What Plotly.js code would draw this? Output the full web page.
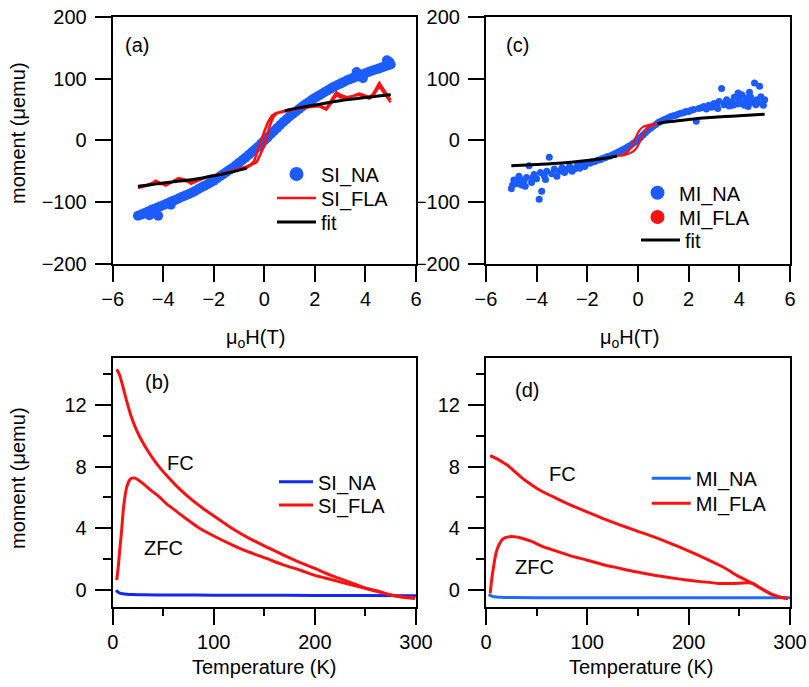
<!DOCTYPE html>
<html>
<head>
<meta charset="utf-8">
<script src="https://cdn.plot.ly/plotly-3.0.1.min.js"></script>
<style>
  html, body { margin: 0; padding: 0; background: #fff; }
  #chart { width: 809px; height: 687px; }
</style>
</head>
<body>
<div id="chart"></div>
<script>
// ---------- (a) SI samples: moment vs applied field ----------
const siNaField = [-5,-4.875,-4.75,-4.625,-4.5,-4.375,-4.25,-4.125,-4,-3.875,-3.75,-3.625,-3.5,-3.375,-3.25,-3.125,-3,-2.875,-2.75,-2.625,-2.5,-2.375,-2.25,-2.125,-2,-1.875,-1.75,-1.625,-1.5,-1.375,-1.25,-1.125,-1,-0.875,-0.75,-0.625,-0.5,-0.375,-0.25,-0.125,
  0,0.125,0.25,0.375,0.5,0.625,0.75,0.875,1,1.125,1.25,1.375,1.5,1.625,1.75,1.875,2,2.125,2.25,2.375,2.5,2.625,2.75,2.875,3,3.125,3.25,3.375,3.5,3.625,3.75,3.875,4,4.125,4.25,4.375,4.5,4.625,4.75,4.875,5,
  -4.55,-4.3,-4.2,-3.7,3.65,3.9,4.85,4.95];
const siNaMoment = [-122,-120,-118,-115.5,-113,-111,-109,-107,-105,-102.5,-100,-98,-96,-93.5,-91,-89,-87,-84.5,-82,-79,-76,-73.5,-71,-68,-65,-61.5,-58,-54.5,-51,-47.5,-44,-40,-36,-32,-28,-23.5,-19,-14.5,-10,-5,
  0,5,10,15,20,25,30,34.5,39,43,47,51,55,58.5,62,65.5,69,72,75,78,81,84,87,89.5,92,94.5,97,99,101,103,105,107,109,111,113,114.5,116,118,120,121.5,123,
  -121,-118,-122,-104,111,101,130,127];

const siFlaField = [5,4.75,4.55,4.3,4.15,3.9,3.75,3.5,3.25,3.0,2.85,2.6,2.45,2.2,1.9,1.6,1.3,1.0,0.7,0.45,0.3,0.15,0.0,-0.12,-0.25,-0.4,-0.55,-0.7,-1.0,-1.3,-1.7,-2.1,-2.5,-2.9,-3.15,-3.4,-3.65,-3.9,-4.1,-4.3,-4.55,-4.8,-5,
  -4.7,-4.4,-4.2,-3.9,-3.6,-3.4,-3.1,-2.9,-2.5,-2.1,-1.7,-1.3,-1.0,-0.7,-0.5,-0.3,-0.15,0.0,0.1,0.2,0.35,0.5,0.7,1.0,1.3,1.6,1.9,2.2,2.45,2.6,2.85,3.0,3.25,3.5,3.75,3.9,4.15,4.3,4.55,4.75,5];
const siFlaMoment = [65,80,93,75,70,74,76,72,70,74,78,62,52,56,55,54,52,50,47,44,40,30,15,0,-18,-33,-39,-42,-46,-50,-54,-57,-63,-70,-63,-61,-67,-73,-69,-65,-72,-75,-77,
  -73,-68,-70,-71,-66,-63,-66,-67,-62,-57,-54,-51,-47,-44,-39,-35,-22,-8,5,22,38,44,46,49,52,54,55,55,50,58,74,70,68,72,74,72,68,72,88,76,62];

const fitAField  = [-5,-4.5,-4,-3.5,-3,-2.5,-2,-1.5,-1,-0.7,null,0.8,1,1.5,2,2.5,3,3.5,4,4.5,5];
const fitAMoment = [-74,-71.5,-69,-66.5,-64,-61,-57,-53,-48,-45,null,48,50,54,57.5,61,64.5,67,69.5,72,74];

// ---------- (c) MI samples: moment vs applied field ----------
const miNaField = [-5,-4.9,-4.8,-4.7,-4.6,-4.5,-4.4,-4.3,-4.2,-4.1,-4,-3.9,-3.8,-3.7,-3.6,-3.5,-3.4,-3.3,-3.2,-3.1,-3,-2.9,-2.8,-2.7,-2.6,-2.5,-2.4,-2.3,-2.2,-2.1,-2,-1.9,-1.8,-1.7,-1.6,-1.5,-1.4,-1.3,-1.2,-1.1,-1,-0.9,-0.8,-0.7,-0.6,-0.5,-0.4,-0.3,-0.2,-0.1,0,0.1,0.2,0.3,0.4,0.5,0.6,0.7,0.8,0.9,1,1.1,1.2,1.3,1.4,1.5,1.6,1.7,1.8,1.9,2,2.1,2.2,2.3,2.4,2.5,2.6,2.7,2.8,2.9,3,3.1,3.2,3.3,3.4,3.5,3.6,3.7,3.8,3.9,4,4.1,4.2,4.3,4.4,4.5,4.6,4.7,4.8,4.9,5,
  -4.95,-4.85,-4.65,-4.45,-4.15,-3.85,-3.65,3.15,3.45,3.75,3.95,4.05,4.25,4.35,4.45,4.65,4.85,4.95];
const miNaMoment = [-78,-64,-70,-58,-72,-66,-60,-41,-68,-55,-62,-95,-82,-57,-50,-27,-54,-46,-58,-50,-44,-52,-47,-42,-50,-46,-41,-45,-38,-42,-36,-37,-35,-34,-32,-31,-29,-28,-26,-25,-23,-21,-19,-17,-15,-13,-10,-8,-5,-2,1,5,9,13,17,20,23,26,29,31,33,35,37,39,40,41,43,44,45,47,47,49,50,31,52,53,55,51,57,54,60,55,63,84,58,66,56,62,70,59,67,74,57,69,78,62,93,66,88,60,66,
  -72,-66,-63,-74,-60,-52,-63,52,62,57,77,60,64,55,70,58,71,57];

const miFlaField  = [0.77,0.55,0.35,0.2,0.05,-0.05,-0.15,-0.25,-0.35,-0.5,-0.65,-0.83,-0.6,-0.4,-0.2,-0.05,0.05,0.1,0.2,0.3,0.45,0.6,0.77];
const miFlaMoment = [27,26,24,22,16,8,0,-9,-16,-21,-24,-25,-24,-22,-18,-12,-4,0,9,16,22,25,27];

const fitCField  = [-5,-4,-3,-2,-1.5,-1,-0.83,null,0.77,1,1.5,2,3,4,5];
const fitCMoment = [-41,-39,-36.5,-32.5,-30,-26.5,-25,null,27,29,31.5,34,37.5,40,42.5];

// ---------- (b) SI samples: FC / ZFC moment vs temperature ----------
const siNaTemp   = [3.5,5,7,10,14,20,30,50,100,150,200,250,300];
const siNaTMom   = [0.0,-0.12,-0.2,-0.24,-0.27,-0.29,-0.31,-0.32,-0.33,-0.34,-0.35,-0.36,-0.37];
const siFcTemp   = [4,7,10,14,18,22,27,33,40,47,55,63,72,86,100,119,135,152,168,185,200,218,235,251,268,284,299];
const siFcMom    = [14.3,13.9,13.2,12.2,11.3,10.6,9.9,9.2,8.5,7.9,7.3,6.75,6.2,5.45,4.8,3.95,3.35,2.8,2.3,1.8,1.4,0.9,0.5,0.1,-0.2,-0.43,-0.55];
const siZfcTemp  = [4,5.5,7,9,10.5,12,14,16.5,19,22,26,31,37,45,53,61,70,86,100,119,135,152,168,185,200,218,235,251,262,274,287,299];
const siZfcMom   = [0.65,1.5,2.6,4.0,5.2,6.0,6.7,7.1,7.25,7.25,7.1,6.85,6.5,6.1,5.6,5.2,4.75,4.0,3.5,2.9,2.45,2.05,1.65,1.3,0.95,0.65,0.35,0.1,-0.05,-0.3,-0.45,-0.5];

// ---------- (d) MI samples: FC / ZFC moment vs temperature ----------
const miNaTemp   = [2.6,5,8,14,25,50,100,150,200,250,300];
const miNaTMom   = [-0.28,-0.38,-0.44,-0.47,-0.49,-0.5,-0.5,-0.5,-0.5,-0.5,-0.5];
const miFcTemp   = [4,8,11,16,21,27,34,42,50,58,66,82,99,115,132,148,165,182,198,214,230,239,247,255,263,271,280,285,290,295,298];
const miFcMom    = [8.7,8.6,8.5,8.3,8.1,7.75,7.35,6.95,6.6,6.3,6.05,5.55,5.08,4.65,4.22,3.85,3.46,3.03,2.59,2.12,1.62,1.3,0.97,0.7,0.43,0.12,-0.21,-0.35,-0.47,-0.52,-0.54];
const miZfcTemp  = [4.2,5.5,7.5,9,10.8,13,15.7,19,23.9,28,33.7,45,55,66.5,82,99,115,132,148,165,182,198,214,230,240,250,258,263,271,280,285,290,295,298];
const miZfcMom   = [-0.21,0.6,1.51,2.1,2.59,2.95,3.24,3.4,3.46,3.45,3.39,3.15,2.85,2.59,2.25,1.95,1.66,1.41,1.18,0.97,0.8,0.65,0.53,0.43,0.42,0.44,0.47,0.43,0.12,-0.21,-0.35,-0.47,-0.52,-0.54];

// ---------- styling ----------
const W = 809, H = 687;
const FONT = 'Liberation Sans, Arial, Helvetica, sans-serif';
const FS = 20;
const BLUE_DOT = 'rgb(28,92,255)';
const RED = 'rgb(250,18,18)';
const BLUE_B = 'rgb(20,40,240)';
const BLUE_D = 'rgb(30,108,255)';

const traces = [
  // (a)
  {x:siNaField, y:siNaMoment, type:'scatter', mode:'markers', name:'SI_NA', marker:{size:10, color:BLUE_DOT}, showlegend:false, xaxis:'x', yaxis:'y'},
  {x:[null], y:[null], type:'scatter', mode:'markers', name:'SI_NA', marker:{size:14, color:BLUE_DOT}, legend:'legend', xaxis:'x', yaxis:'y'},
  {x:siFlaField, y:siFlaMoment, type:'scatter', mode:'lines', name:'SI_FLA', line:{color:RED, width:2.6}, legend:'legend2', xaxis:'x', yaxis:'y'},
  {x:fitAField, y:fitAMoment, type:'scatter', mode:'lines', name:'fit', line:{color:'#000', width:3, shape:'spline'}, legend:'legend3', xaxis:'x', yaxis:'y'},
  // (c)
  {x:miNaField, y:miNaMoment, type:'scatter', mode:'markers', name:'MI_NA', marker:{size:7, color:BLUE_DOT}, showlegend:false, xaxis:'x2', yaxis:'y2'},
  {x:[null], y:[null], type:'scatter', mode:'markers', name:'MI_NA', marker:{size:14, color:BLUE_DOT}, legend:'legend4', xaxis:'x2', yaxis:'y2'},
  {x:[null], y:[null], type:'scatter', mode:'markers', name:'MI_FLA', marker:{size:14, color:RED}, legend:'legend5', xaxis:'x2', yaxis:'y2'},
  {x:miFlaField, y:miFlaMoment, type:'scatter', mode:'lines', name:'MI_FLA', line:{color:RED, width:2.2, shape:'spline', smoothing:0.8}, showlegend:false, xaxis:'x2', yaxis:'y2'},
  {x:fitCField, y:fitCMoment, type:'scatter', mode:'lines', name:'fit', line:{color:'#000', width:3, shape:'spline'}, legend:'legend6', xaxis:'x2', yaxis:'y2'},
  // (b)
  {x:siNaTemp, y:siNaTMom, type:'scatter', mode:'lines', name:'SI_NA', line:{color:BLUE_B, width:3, shape:'spline'}, legend:'legend7', xaxis:'x3', yaxis:'y3'},
  {x:siFcTemp, y:siFcMom, type:'scatter', mode:'lines', name:'SI_FLA', line:{color:RED, width:3, shape:'spline', smoothing:0.6}, legend:'legend8', xaxis:'x3', yaxis:'y3'},
  {x:siZfcTemp, y:siZfcMom, type:'scatter', mode:'lines', name:'SI_FLA', line:{color:RED, width:3, shape:'spline', smoothing:0.6}, showlegend:false, xaxis:'x3', yaxis:'y3'},
  // (d)
  {x:miNaTemp, y:miNaTMom, type:'scatter', mode:'lines', name:'MI_NA', line:{color:BLUE_D, width:3, shape:'spline'}, legend:'legend9', xaxis:'x4', yaxis:'y4'},
  {x:miFcTemp, y:miFcMom, type:'scatter', mode:'lines', name:'MI_FLA', line:{color:RED, width:3, shape:'spline', smoothing:0.6}, legend:'legend10', xaxis:'x4', yaxis:'y4'},
  {x:miZfcTemp, y:miZfcMom, type:'scatter', mode:'lines', name:'MI_FLA', line:{color:RED, width:3, shape:'spline', smoothing:0.6}, showlegend:false, xaxis:'x4', yaxis:'y4'}
];

function axis(extra) {
  return Object.assign({
    showline: true, linewidth: 2, linecolor: '#000', mirror: true,
    ticks: 'outside', ticklen: 16, tickwidth: 2, tickcolor: '#000',
    showgrid: false, zeroline: false, fixedrange: true,
    tickfont: {family: FONT, size: FS, color: '#000'}
  }, extra);
}

const xTopL = [0.1393, 0.5142], xTopR = [0.6007, 0.9765];
const yTop = [0.6157, 0.9753], yBot = [0.1164, 0.4782];

const fieldAxis = {range: [-6, 6], tick0: 0, dtick: 2};
const momentAxis = {range: [-200, 200], tick0: 0, dtick: 100, ticklabelstandoff: 4};
const tempAxis = {range: [0, 300], tick0: 0, dtick: 100,
  minor: {dtick: 50, ticklen: 7, tickwidth: 2, tickcolor: '#000', ticks: 'outside'}};
const tMomentAxis = {range: [-1.1, 15], tick0: 0, dtick: 4, ticklabelstandoff: 4,
  minor: {dtick: 2, ticklen: 8, tickwidth: 2, tickcolor: '#000', ticks: 'outside'}};

// one legend box per entry, placed by its left edge (px) and entry centre (px)
function legendAt(leftPx, centerPx, itemwidth, size) {
  const fs = size || FS;
  const offset = 5 + (fs * 1.3 + 3) / 2;
  return {bgcolor: 'rgba(0,0,0,0)', borderwidth: 0, xanchor: 'left', yanchor: 'top',
    x: leftPx / W, y: 1 - (centerPx - offset) / H, itemwidth: itemwidth,
    font: {family: FONT, size: fs, color: '#000'}, itemclick: false, itemdoubleclick: false};
}

function label(text, px, py, extra) {
  return Object.assign({text: text, x: px / W, y: 1 - py / H, xref: 'paper', yref: 'paper',
    showarrow: false, xanchor: 'center', yanchor: 'middle',
    font: {family: FONT, size: FS, color: '#000'}}, extra || {});
}

const layout = {
  width: W, height: H,
  margin: {l: 0, r: 0, t: 0, b: 0},
  paper_bgcolor: '#fff', plot_bgcolor: '#fff',
  font: {family: FONT, size: FS, color: '#000'},
  showlegend: true,
  xaxis:  axis(Object.assign({domain: xTopL, anchor: 'y'}, fieldAxis)),
  yaxis:  axis(Object.assign({domain: yTop, anchor: 'x'}, momentAxis)),
  xaxis2: axis(Object.assign({domain: xTopR, anchor: 'y2'}, fieldAxis)),
  yaxis2: axis(Object.assign({domain: yTop, anchor: 'x2'}, momentAxis)),
  xaxis3: axis(Object.assign({domain: xTopL, anchor: 'y3'}, tempAxis)),
  yaxis3: axis(Object.assign({domain: yBot, anchor: 'x3'}, tMomentAxis)),
  xaxis4: axis(Object.assign({domain: xTopR, anchor: 'y4'}, tempAxis)),
  yaxis4: axis(Object.assign({domain: yBot, anchor: 'x4'}, tMomentAxis)),
  legend:   legendAt(272, 174, 39),
  legend2:  legendAt(272, 198, 39),
  legend3:  legendAt(272, 222, 39),
  legend4:  legendAt(636, 192.7, 33),
  legend5:  legendAt(636, 217, 33),
  legend6:  legendAt(636, 240, 39),
  legend7:  legendAt(274, 481.7, 34),
  legend8:  legendAt(274, 505, 34),
  legend9:  legendAt(646.7, 478.3, 39),
  legend10: legendAt(646.7, 503.3, 39),
  annotations: [
    label('(a)', 137, 45),
    label('(c)', 517, 45),
    label('(b)', 157, 382),
    label('(d)', 527, 390),
    label('FC', 180, 463),
    label('ZFC', 163, 548),
    label('FC', 562, 474),
    label('ZFC', 534, 567),
    label('moment (μemu)', 18, 133, {textangle: -90}),
    label('moment (μemu)', 18, 478, {textangle: -90}),
    label('μ<sub>o</sub>H(T)', 256, 338),
    label('μ<sub>o</sub>H(T)', 629, 338),
    label('Temperature (K)', 264, 667),
    label('Temperature (K)', 641, 667)
  ]
};

Plotly.newPlot('chart', traces, layout, {displayModeBar: false, staticPlot: true});
</script>
</body>
</html>
